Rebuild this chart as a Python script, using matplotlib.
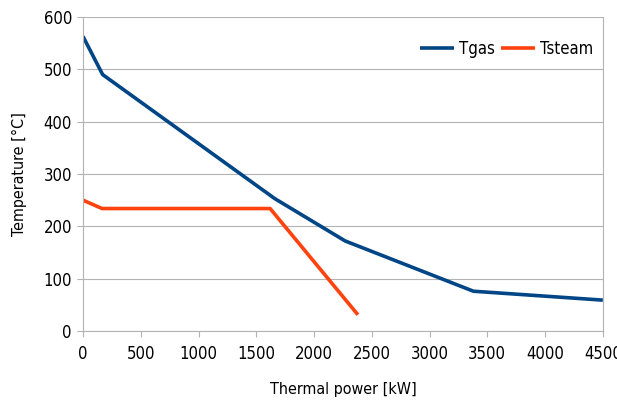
import matplotlib
matplotlib.use('Agg')
import matplotlib.pyplot as plt
from matplotlib import font_manager

# Thermal power [kW] / temperature [°C] points
gas_power = [0, 170, 1660, 2270, 3380, 4500]
gas_temp = [563, 490, 253, 172, 76, 59]

steam_power = [0, 165, 1620, 2380]
steam_temp = [250, 234, 234, 31]

x_ticks = [0, 500, 1000, 1500, 2000, 2500, 3000, 3500, 4000, 4500]
y_ticks = [0, 100, 200, 300, 400, 500, 600]

# condensed face if one is installed, else plain Liberation Sans
names = {f.name for f in font_manager.fontManager.ttflist}
condensed = [f for f in font_manager.fontManager.ttflist
             if f.name == 'DejaVu Sans' and f.stretch == 'condensed']
print(sorted(n for n in names if 'Narrow' in n or 'Condensed' in n), len(condensed))
if 'Liberation Sans Narrow' in names:
    plt.rcParams['font.family'] = ['Liberation Sans Narrow', 'DejaVu Sans']
elif condensed:
    plt.rcParams['font.family'] = ['DejaVu Sans']
    plt.rcParams['font.stretch'] = 'condensed'
else:
    plt.rcParams['font.family'] = ['Liberation Sans', 'DejaVu Sans']

fig = plt.figure(figsize=(6.17, 4.0), dpi=100)
ax = fig.add_axes([0.1345, 0.1725, 0.977 - 0.1345, 0.9575 - 0.1725])

ax.plot(gas_power, gas_temp, color='#004586', lw=2.6, label='Tgas', solid_capstyle='butt')
ax.plot(steam_power, steam_temp, color='#ff420e', lw=2.6, label='Tsteam', solid_capstyle='butt')

ax.set_xlim(0, 4500)
ax.set_ylim(0, 600)
ax.set_xticks(x_ticks)
ax.set_yticks(y_ticks)
ax.tick_params(labelsize=12, color='#b3b3b3', length=4, width=0.8)
ax.tick_params(axis='x', pad=6)
ax.tick_params(axis='y', pad=4)

ax.grid(axis='y', color='#b3b3b3', lw=0.8)
ax.set_axisbelow(True)
for side in ['left', 'bottom', 'right']:
    ax.spines[side].set_color('#b3b3b3')
    ax.spines[side].set_linewidth(0.8)
ax.spines['top'].set_visible(False)

ax.set_xlabel('Thermal power [kW]', fontsize=11.5, labelpad=14)
ax.set_ylabel('Temperature [°C]', fontsize=11.5, labelpad=12)

ax.legend(loc='upper right', ncol=2, frameon=False, fontsize=12,
          handlelength=2.0, handletextpad=0.3, columnspacing=0.4,
          bbox_to_anchor=(1.0, 0.96), borderaxespad=0.2)

fig.savefig('out.png', dpi=100)
